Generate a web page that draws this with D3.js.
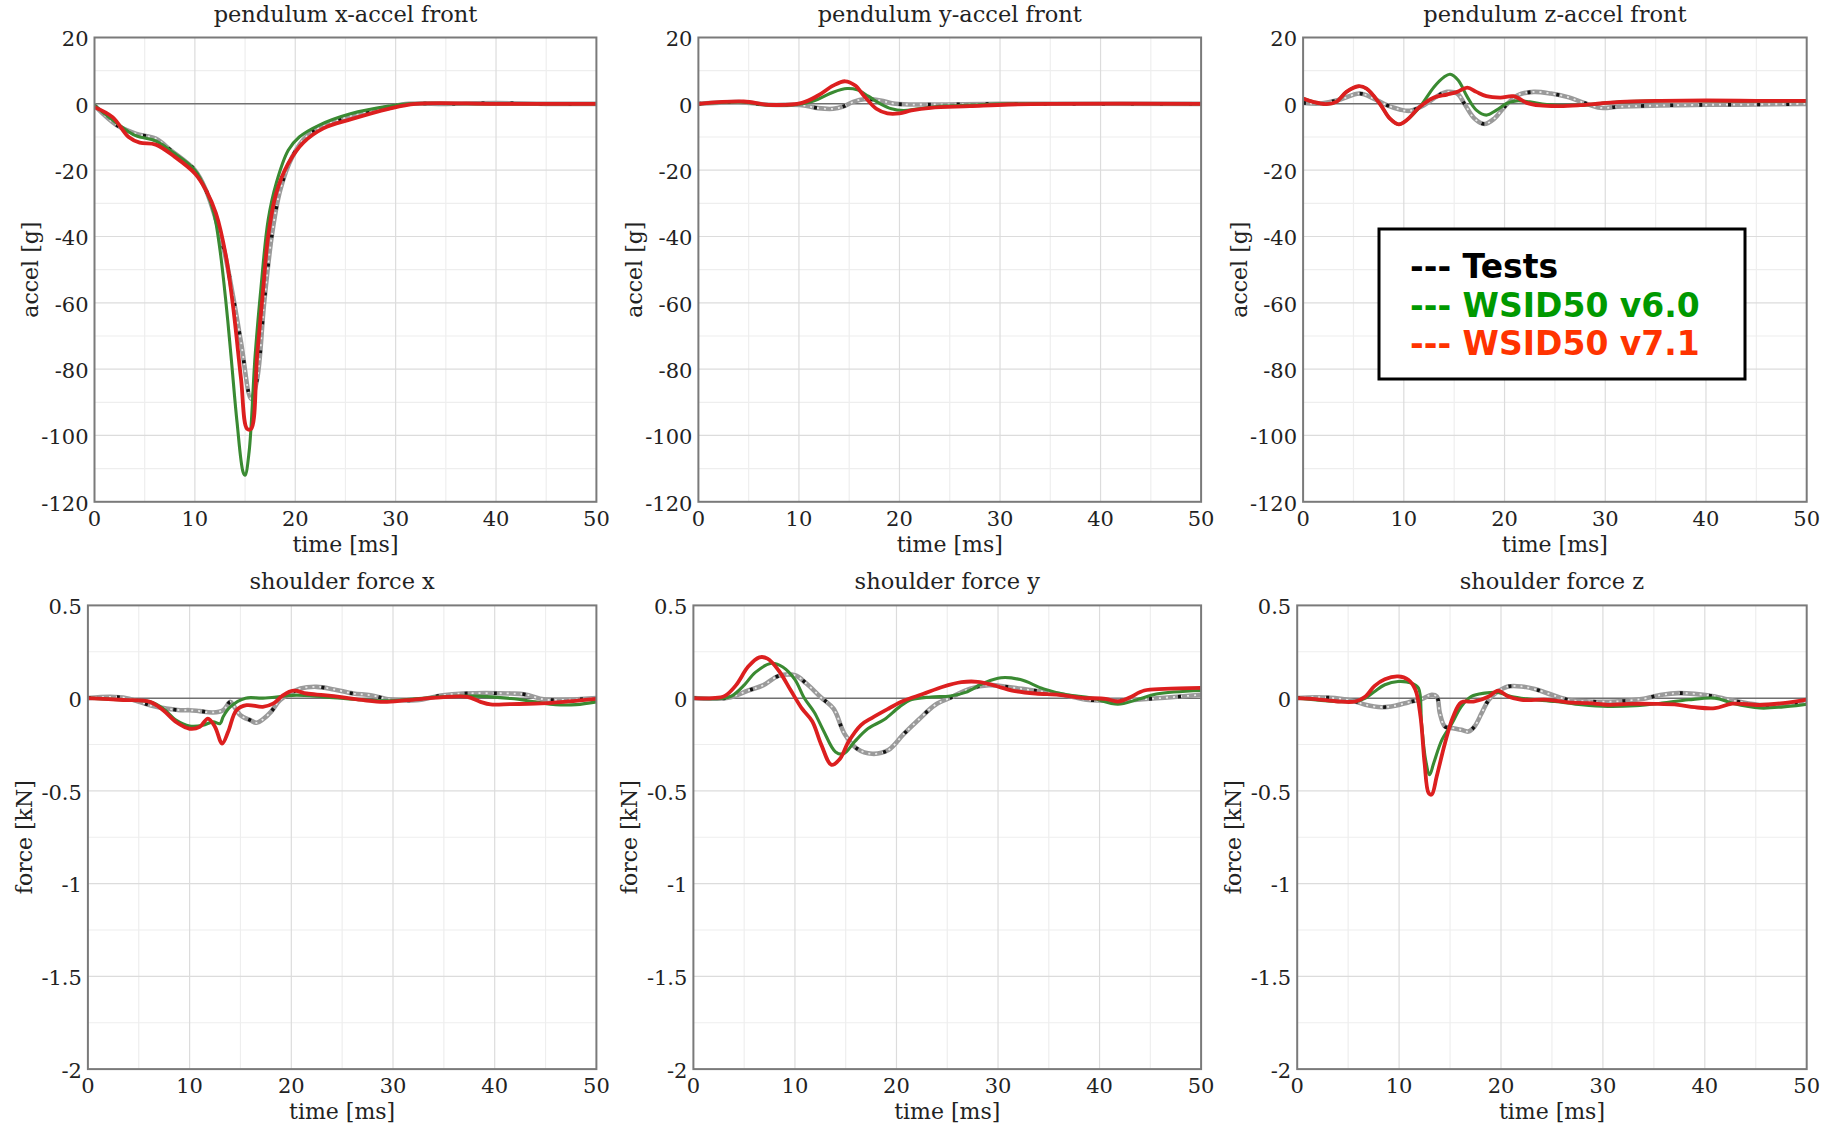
<!DOCTYPE html>
<html>
<head>
<meta charset="utf-8">
<script src="https://cdn.jsdelivr.net/npm/d3@7"></script>
<style>
  html, body { margin: 0; padding: 0; background: #fff; }
  svg { display: block; }
</style>
</head>
<body>
<svg id="chart" width="1826" height="1129"></svg>
<script>
// ---------------- DATA ----------------
const timeTicks = [0, 10, 20, 30, 40, 50];
const timeTickLabels = ["0", "10", "20", "30", "40", "50"];
const accelTicks = [20, 0, -20, -40, -60, -80, -100, -120];
const accelTickLabels = ["20", "0", "-20", "-40", "-60", "-80", "-100", "-120"];
const forceTicks = [0.5, 0, -0.5, -1, -1.5, -2];
const forceTickLabels = ["0.5", "0", "-0.5", "-1", "-1.5", "-2"];

const panelTitles = ["pendulum x-accel front", "pendulum y-accel front", "pendulum z-accel front",
                     "shoulder force x", "shoulder force y", "shoulder force z"];
const legendLabels = ["--- Tests", "--- WSID50 v6.0", "--- WSID50 v7.1"];

// pendulum x-accel [t ms, g]
const xAccelTests = [[0,-0.5],[2.2,-6.4],[4.1,-9],[6.1,-10.5],[7.6,-14],[10,-20],[11.1,-26],[12.1,-35],[12.9,-44],[13.8,-58],[14.6,-72],[15.6,-89],[16.2,-83],[16.9,-60],[17.7,-39],[18.5,-26],[19.7,-16],[21.2,-9.6],[23.5,-5.8],[26.2,-3],[29.3,-1],[31.3,0],[35,0],[40,0.2],[45,0],[50,0]];
const xAccelV60 = [[0,-0.5],[2.2,-5.8],[4.1,-9.6],[6.1,-11.2],[8,-15],[10,-20],[11.1,-26],[11.9,-33],[12.5,-44],[13.1,-60],[13.6,-76],[14.2,-96],[14.8,-111],[15.0,-112],[15.4,-105],[16.0,-76],[16.6,-55],[17.3,-35],[18.1,-24],[19.3,-14],[20.4,-10],[22.4,-6.4],[25.5,-3],[29.3,-0.7],[31.3,0],[40,0],[50,0]];
const xAccelV71 = [[0,-1],[1.8,-4],[3.4,-10],[4.5,-11.7],[6.1,-12.3],[8,-16],[10,-21],[11.1,-26],[12.1,-33],[13.1,-46],[13.8,-61],[14.6,-83],[15.2,-98],[15.6,-98],[16.2,-76],[16.8,-56],[17.3,-40],[18.1,-27],[19.3,-18],[20.8,-11.7],[22.8,-7.4],[25.5,-4.7],[29.3,-1.5],[32,0],[40,0],[50,0]];

// pendulum y-accel
const yAccelTests = [[0,0],[4,0.5],[7,-0.3],[10.3,-0.4],[11.9,-1.3],[13.4,-1.5],[14.4,-0.8],[15.4,0.6],[16.5,1.4],[18.1,1],[19.6,0],[23,-0.2],[30,0],[50,0]];
const yAccelV60 = [[0,0],[4.5,0.5],[7,-0.4],[10.3,0],[11.9,1.4],[13.4,3.5],[14.8,4.6],[15.8,4.2],[16.9,2.3],[18.1,0],[19.2,-1.5],[20.4,-2],[21.9,-1.5],[24.3,-0.7],[27,-0.4],[30.8,0],[50,0]];
const yAccelV71 = [[0,0],[4.5,0.7],[7,-0.3],[10.3,0.3],[11.9,2.5],[13.4,5.5],[14.6,6.8],[15.6,5.5],[16.5,2.3],[17.7,-1.5],[18.8,-2.9],[20,-2.9],[21.2,-2],[23.1,-1.2],[27,-0.7],[30.8,-0.2],[35,0],[50,0]];

// pendulum z-accel
const zAccelTests = [[0,0.3],[1.7,0.1],[3.7,1.3],[5.6,3.1],[7.0,1.6],[8.3,-0.4],[9.6,-1.7],[10.6,-2.1],[12.0,-0.4],[13.3,2.3],[14.3,3.6],[15.3,3.1],[16.0,0.1],[17.0,-4.4],[18.0,-6.1],[19.0,-4.4],[20.0,-0.9],[21.3,2.6],[22.9,3.6],[24.6,3.1],[26.2,2.1],[27.9,0.3],[29.5,-1.2],[31.2,-0.9],[32.8,-0.7],[35.5,-0.5],[40,-0.3],[45,-0.2],[50,0]];
const zAccelV60 = [[0,1.6],[1.0,0.6],[2.3,-0.1],[3.3,0.6],[4.3,3.6],[5.5,5.3],[6.3,4.6],[7.6,0.1],[8.6,-4.4],[9.5,-6.2],[10.3,-4.9],[11.6,-0.9],[13.0,5.1],[14.0,8.1],[14.6,8.9],[15.4,7.1],[16.3,2.1],[17.2,-1.9],[18.2,-3.4],[19.2,-1.9],[20.2,0.1],[21.2,0.9],[22.5,0.6],[24.2,-0.2],[27.5,-0.4],[29.5,0.1],[31.5,0.6],[35.5,0.9],[40,0.9],[45,0.8],[50,0.8]];
const zAccelV71 = [[0,1.6],[1.0,0.6],[2.3,-0.1],[3.3,0.6],[4.3,3.6],[5.5,5.3],[6.3,4.6],[7.6,0.1],[8.6,-4.4],[9.5,-6.2],[10.3,-4.9],[11.6,-0.9],[13.0,1.9],[14.3,2.8],[15.3,3.6],[16.3,4.9],[17.2,3.6],[18.2,2.3],[19.6,1.9],[20.9,2.3],[22.2,0.3],[23.5,-0.5],[25.5,-0.7],[27.5,-0.4],[29.5,0.1],[31.5,0.6],[35.5,0.9],[40,1.0],[45,0.9],[50,0.9]];

// shoulder force x [t ms, kN]
const xForceTests = [[0,0],[2.2,0.007],[3.8,0],[6.4,-0.043],[7.7,-0.056],[9.1,-0.065],[10,-0.065],[11,-0.07],[12.3,-0.077],[13.3,-0.065],[14.0,-0.02],[14.3,-0.038],[15.0,-0.092],[16.0,-0.12],[16.6,-0.133],[17.2,-0.115],[18.0,-0.074],[18.9,-0.01],[19.9,0.025],[20.9,0.052],[22.5,0.061],[24.2,0.047],[26.1,0.025],[27.8,0.016],[29.7,-0.007],[32.3,-0.011],[34.9,0.016],[36.9,0.025],[41.6,0.025],[43,0.02],[45,-0.008],[50,0]];
const xForceV60 = [[0,0],[3.5,-0.01],[6.1,-0.02],[7.4,-0.056],[8.7,-0.12],[10,-0.15],[11.3,-0.146],[12.3,-0.128],[13,-0.137],[13.3,-0.1],[14,-0.047],[15.5,0],[17.2,0],[19.2,0.01],[20.5,0.016],[23.2,0.007],[26.4,-0.007],[29.7,-0.014],[34.7,0.007],[38,0.011],[41.6,-0.002],[44,-0.02],[46,-0.035],[48,-0.035],[50,-0.02]];
const xForceV71 = [[0,0],[3.5,-0.01],[6.1,-0.02],[7.4,-0.065],[8.7,-0.13],[10,-0.165],[11,-0.155],[11.8,-0.11],[12.5,-0.155],[13.2,-0.245],[13.8,-0.18],[14.6,-0.065],[15.6,-0.038],[17.2,-0.047],[18.2,-0.03],[19.2,0.016],[20.2,0.04],[21.5,0.025],[23.2,0.016],[25.1,0.004],[27.1,-0.011],[29.1,-0.02],[31.4,-0.011],[34.7,0.004],[37.3,0.007],[38.6,-0.02],[39.6,-0.034],[41.6,-0.032],[44,-0.03],[47.2,-0.018],[50,-0.004]];

// shoulder force y
const yForceTests = [[0,0],[3.4,0.002],[5.4,0.041],[6.9,0.07],[8.4,0.12],[10,0.123],[11.1,0.08],[12.6,0.002],[13.8,-0.057],[14.9,-0.194],[16.1,-0.272],[17.6,-0.3],[19.2,-0.28],[20.7,-0.194],[22.2,-0.115],[23.8,-0.037],[25.3,0.002],[27.2,0.05],[29.1,0.07],[31,0.06],[33,0.045],[36,0.022],[38.7,-0.008],[41.4,-0.014],[43.7,-0.008],[46.4,0.002],[50,0.018]];
const yForceV60 = [[0,0],[3,0],[3.8,0.012],[5,0.07],[6.1,0.139],[7.7,0.188],[8.8,0.168],[10,0.1],[10.9,0.002],[11.9,-0.076],[12.8,-0.174],[14,-0.29],[14.8,-0.3],[15.9,-0.233],[17.2,-0.164],[18.8,-0.115],[20.3,-0.047],[21.5,-0.008],[23.4,0.006],[25.3,0.012],[26.8,0.031],[28.7,0.084],[30.3,0.11],[32.2,0.1],[34.5,0.05],[36.8,0.018],[39.1,0.002],[41.8,-0.033],[43.7,-0.008],[45.6,0.022],[50,0.041]];
const yForceV71 = [[0,0],[1.9,0],[3.1,0.012],[4.2,0.07],[5.4,0.17],[6.5,0.22],[7.3,0.213],[8.4,0.149],[9.6,0.041],[10.7,-0.057],[11.7,-0.125],[12.6,-0.252],[13.6,-0.36],[14.4,-0.33],[15.3,-0.233],[16.5,-0.145],[17.6,-0.106],[19.2,-0.057],[20.7,-0.014],[22.6,0.022],[24.5,0.06],[26.4,0.086],[28,0.088],[29.5,0.07],[31.4,0.041],[33.7,0.025],[36,0.018],[38.3,0.002],[40.6,-0.004],[41.8,-0.018],[42.9,0.002],[44.4,0.041],[46.4,0.05],[50,0.055]];

// shoulder force z
const zForceTests = [[0,0],[1.8,0.005],[3.7,0],[5.7,-0.018],[6.7,-0.036],[8.3,-0.049],[9.6,-0.041],[10.9,-0.023],[12.2,-0.005],[13.2,0.018],[13.7,0.009],[14.0,-0.081],[14.5,-0.153],[15.3,-0.162],[16.1,-0.171],[16.8,-0.18],[17.4,-0.153],[18.1,-0.081],[18.8,-0.009],[19.7,0.036],[20.7,0.063],[22,0.063],[23.3,0.049],[25,0.018],[26.6,-0.009],[28.6,-0.018],[31.2,-0.018],[33.8,-0.005],[35.8,0.018],[37.4,0.027],[39,0.023],[41,0.009],[42.3,-0.008],[45.4,-0.037],[47.7,-0.033],[50,-0.018]];
const zForceV60 = [[0,0],[5.7,-0.018],[6.7,0],[7.6,0.036],[8.6,0.072],[9.9,0.09],[11.2,0.081],[11.9,0.054],[12.2,-0.135],[12.6,-0.332],[13,-0.413],[13.4,-0.35],[14.2,-0.225],[15.2,-0.135],[16.1,-0.045],[17.1,0.009],[18.4,0.027],[19.7,0.031],[21,0.009],[22.7,-0.005],[25.3,-0.018],[27.9,-0.036],[30.5,-0.045],[33.2,-0.041],[35.8,-0.027],[38.4,-0.009],[41,0],[42.7,-0.027],[45.4,-0.053],[47.7,-0.047],[50,-0.033]];
const zForceV71 = [[0,0],[1.8,-0.005],[4,-0.018],[5.7,-0.018],[6.7,0.009],[7.6,0.066],[8.6,0.102],[9.9,0.117],[10.9,0.099],[11.6,0.045],[12.1,-0.099],[12.5,-0.35],[12.9,-0.512],[13.2,-0.52],[13.7,-0.42],[14.5,-0.243],[15.3,-0.1],[16.1,-0.023],[17.4,-0.018],[18.8,0.009],[19.7,0.041],[20.7,0.009],[22,-0.009],[24.6,-0.009],[26.6,-0.023],[28.6,-0.027],[30.5,-0.036],[32.5,-0.031],[35.1,-0.031],[37.4,-0.036],[39,-0.049],[41,-0.054],[42.7,-0.03],[45.4,-0.037],[47.7,-0.027],[50,-0.008]];

// ---------------- LAYOUT / STYLE ----------------
const serif = "'DejaVu Serif', 'Liberation Serif', serif";
const sans = "'DejaVu Sans', Verdana, sans-serif";
const colTests = "#9a9a9a", colV60 = "#3a8a32", colV71 = "#dc1f1f";

const panels = [
  {title: panelTitles[0], ylabel: "accel [g]", dom: [-120, 20], ticks: accelTicks, labels: accelTickLabels, minor: 10, box: [94.5, 37.5, 596.4, 501.8], series: [xAccelTests, xAccelV60, xAccelV71]},
  {title: panelTitles[1], ylabel: "accel [g]", dom: [-120, 20], ticks: accelTicks, labels: accelTickLabels, minor: 10, box: [698.4, 37.5, 1201.1, 501.8], series: [yAccelTests, yAccelV60, yAccelV71]},
  {title: panelTitles[2], ylabel: "accel [g]", dom: [-120, 20], ticks: accelTicks, labels: accelTickLabels, minor: 10, box: [1303.1, 37.5, 1806.7, 501.8], series: [zAccelTests, zAccelV60, zAccelV71]},
  {title: panelTitles[3], ylabel: "force [kN]", dom: [-2, 0.5], ticks: forceTicks, labels: forceTickLabels, minor: 0.25, box: [87.9, 605.4, 596.4, 1069.1], series: [xForceTests, xForceV60, xForceV71]},
  {title: panelTitles[4], ylabel: "force [kN]", dom: [-2, 0.5], ticks: forceTicks, labels: forceTickLabels, minor: 0.25, box: [693.4, 605.4, 1201.1, 1069.1], series: [yForceTests, yForceV60, yForceV71]},
  {title: panelTitles[5], ylabel: "force [kN]", dom: [-2, 0.5], ticks: forceTicks, labels: forceTickLabels, minor: 0.25, box: [1297.2, 605.4, 1806.7, 1069.1], series: [zForceTests, zForceV60, zForceV71]}
];

const svg = d3.select("#chart");
svg.append("rect").attr("width", 1826).attr("height", 1129).attr("fill", "#fff");
const defs = svg.append("defs");

panels.forEach((p, i) => {
  const [x0, y0, x1, y1] = p.box;
  const x = d3.scaleLinear().domain([0, 50]).range([x0, x1]);
  const y = d3.scaleLinear().domain(p.dom).range([y1, y0]);
  const g = svg.append("g");

  defs.append("clipPath").attr("id", "clip" + i)
    .append("rect").attr("x", x0).attr("y", y0).attr("width", x1 - x0).attr("height", y1 - y0);

  // minor grid
  const minorX = d3.range(5, 50, 10);
  const minorY = d3.range(p.dom[0], p.dom[1] + 1e-9, p.minor).filter(v => !p.ticks.some(t => Math.abs(t - v) < 1e-9));
  g.selectAll(null).data(minorX).join("line")
    .attr("x1", d => x(d)).attr("x2", d => x(d)).attr("y1", y0).attr("y2", y1)
    .attr("stroke", "#eeeeee").attr("stroke-width", 1.2);
  g.selectAll(null).data(minorY).join("line")
    .attr("x1", x0).attr("x2", x1).attr("y1", d => y(d)).attr("y2", d => y(d))
    .attr("stroke", "#eeeeee").attr("stroke-width", 1.2);
  // major grid
  g.selectAll(null).data(timeTicks.slice(1, -1)).join("line")
    .attr("x1", d => x(d)).attr("x2", d => x(d)).attr("y1", y0).attr("y2", y1)
    .attr("stroke", "#dcdcdc").attr("stroke-width", 1.2);
  g.selectAll(null).data(p.ticks.filter(v => v !== 0 && v !== p.dom[0] && v !== p.dom[1])).join("line")
    .attr("x1", x0).attr("x2", x1).attr("y1", d => y(d)).attr("y2", d => y(d))
    .attr("stroke", "#dcdcdc").attr("stroke-width", 1.2);
  // zero line
  g.append("line").attr("x1", x0).attr("x2", x1).attr("y1", y(0)).attr("y2", y(0))
    .attr("stroke", "#707070").attr("stroke-width", 1.5);

  // series
  const line = d3.line().x(d => x(d[0])).y(d => y(d[1])).curve(d3.curveCatmullRom.alpha(0.5));
  const lg = g.append("g").attr("clip-path", `url(#clip${i})`).attr("fill", "none")
    .attr("stroke-linejoin", "round").attr("stroke-linecap", "round");
  lg.append("path").attr("d", line(p.series[0])).attr("stroke", colTests).attr("stroke-width", 4.6);
  lg.append("path").attr("d", line(p.series[0])).attr("stroke", "#e8e8e8").attr("stroke-width", 1.8)
    .attr("stroke-dasharray", "2,5").attr("stroke-linecap", "butt");
  lg.append("path").attr("d", line(p.series[0])).attr("stroke", "#111").attr("stroke-width", 3.6)
    .attr("stroke-dasharray", "3,26").attr("stroke-linecap", "butt");
  lg.append("path").attr("d", line(p.series[1])).attr("stroke", colV60).attr("stroke-width", 3.1);
  lg.append("path").attr("d", line(p.series[2])).attr("stroke", colV71).attr("stroke-width", 3.8);

  // frame
  g.append("rect").attr("x", x0).attr("y", y0).attr("width", x1 - x0).attr("height", y1 - y0)
    .attr("fill", "none").attr("stroke", "#7a7a7a").attr("stroke-width", 2);

  // y tick labels
  g.selectAll(null).data(p.ticks).join("text")
    .attr("x", x0 - 6).attr("y", d => y(d)).attr("dy", "0.42em")
    .attr("text-anchor", "end").attr("font-family", serif).attr("font-size", 21).attr("fill", "#222")
    .text((d, k) => p.labels[k]);
  // x tick labels
  g.selectAll(null).data(timeTicks).join("text")
    .attr("x", d => x(d)).attr("y", y1 + 24)
    .attr("text-anchor", "middle").attr("font-family", serif).attr("font-size", 21).attr("fill", "#222")
    .text((d, k) => timeTickLabels[k]);

  // axis titles
  g.append("text").attr("x", (x0 + x1) / 2).attr("y", y1 + 50)
    .attr("text-anchor", "middle").attr("font-family", serif).attr("font-size", 22).attr("fill", "#222")
    .text("time [ms]");
  g.append("text")
    .attr("transform", `translate(${x0 - 64},${(y0 + y1) / 2}) rotate(-90)`)
    .attr("dy", "0.35em")
    .attr("text-anchor", "middle").attr("font-family", serif).attr("font-size", 22).attr("fill", "#222")
    .text(p.ylabel);
  // panel title
  g.append("text").attr("x", (x0 + x1) / 2).attr("y", y0 - 16)
    .attr("text-anchor", "middle").attr("font-family", serif).attr("font-size", 22.5).attr("fill", "#222")
    .text(p.title);
});

// ---------------- LEGEND ----------------
const legendColors = ["#000000", "#009900", "#ff3300"];
const lgd = svg.append("g");
lgd.append("rect").attr("x", 1379).attr("y", 229).attr("width", 366).attr("height", 150)
  .attr("fill", "#fff").attr("stroke", "#000").attr("stroke-width", 3);
lgd.selectAll(null).data(legendLabels).join("text")
  .attr("x", 1410).attr("y", (d, k) => 278 + k * 38.5)
  .attr("font-family", sans).attr("font-weight", "bold").attr("font-size", 33)
  .attr("fill", (d, k) => legendColors[k])
  .text(d => d);
</script>
</body>
</html>
